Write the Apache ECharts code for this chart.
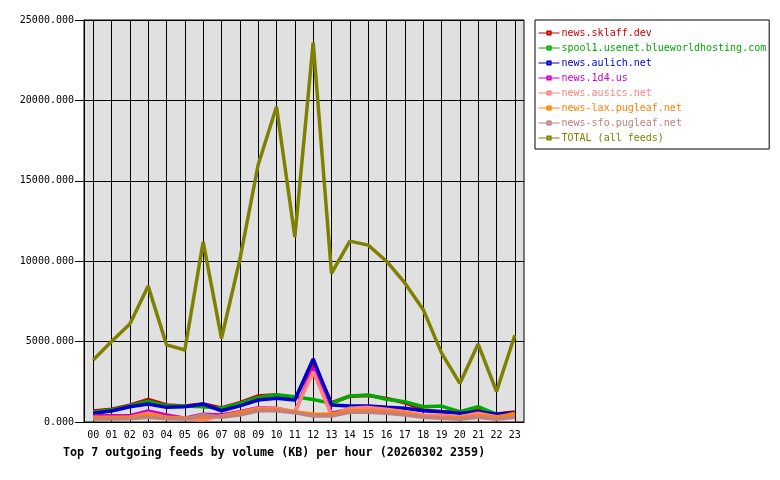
<!DOCTYPE html>
<html>
<head>
<meta charset="utf-8">
<script src="https://cdn.jsdelivr.net/npm/echarts@6/dist/echarts.min.js"></script>
<style>
html, body { margin: 0; padding: 0; background: #fff; }
#chart { width: 780px; height: 480px; }
</style>
</head>
<body>
<div id="chart"></div>
<script>
// hours of the day
var hours = ['00','01','02','03','04','05','06','07','08','09','10','11',
             '12','13','14','15','16','17','18','19','20','21','22','23'];

var feedNames = ['news.sklaff.dev', 'spool1.usenet.blueworldhosting.com', 'news.aulich.net',
                 'news.1d4.us', 'news.ausics.net', 'news-lax.pugleaf.net', 'news-sfo.pugleaf.net',
                 'TOTAL (all feeds)'];
var feedColors = ['#cc0000', '#00aa00', '#0000cc', '#cc00cc', '#ff8080', '#ff8000', '#c08080', '#808000'];

// KB per hour
var sklaff   = [680, 800, 1050, 1410, 1060, 1000, 1120, 870, 1200, 1620, 1700, 1400, 3700, 1200, 1600, 1650, 1470, 1200, 750, 640, 590, 790, 500, 620];
var spool1   = [620, 750, 1000, 1290, 1000, 1000, 950, 850, 1150, 1530, 1700, 1570, 1400, 1160, 1620, 1680, 1410, 1260, 950, 990, 640, 950, 480, 435];
var aulich   = [540, 680, 950, 1120, 910, 950, 1120, 700, 1000, 1370, 1470, 1370, 3920, 1060, 1000, 990, 910, 850, 700, 640, 540, 640, 480, 580];
var d4       = [390, 390, 390, 680, 435, 230, 480, 435, 640, 890, 850, 600, 3340, 540, 800, 860, 750, 600, 380, 330, 300, 480, 330, 400];
var ausics   = [230, 250, 300, 540, 300, 200, 124, 380, 600, 850, 850, 640, 3130, 435, 850, 910, 790, 640, 435, 420, 330, 540, 330, 420];
var lax      = [290, 290, 300, 420, 300, 250, 300, 350, 600, 790, 780, 640, 480, 500, 700, 700, 640, 540, 330, 290, 260, 380, 290, 540];
var sfo      = [190, 190, 200, 290, 200, 180, 450, 300, 435, 700, 700, 580, 370, 370, 600, 600, 540, 435, 290, 230, 170, 290, 170, 300];
var total    = [3850, 5000, 6100, 8450, 4800, 4480, 11200, 5200, 10100, 16000, 19600, 11500, 23600, 9250, 11250, 11000, 10000, 8650, 7000, 4300, 2400, 4850, 1900, 5400];

var yTicks = [0, 5000, 10000, 15000, 20000, 25000];

var feedData = [sklaff, spool1, aulich, d4, ausics, lax, sfo, total];
var mono = 'DejaVu Sans Mono';

var myChart = echarts.init(document.getElementById('chart'));

var series = [];
var legendData = [];
for (var i = 0; i < feedNames.length; i++) {
    series.push({
        name: feedNames[i],
        type: 'line',
        data: feedData[i],
        symbol: 'emptyRect',
        symbolSize: 4,
        showSymbol: false,
        animation: false,
        lineStyle: { width: 3.5, color: feedColors[i] },
        itemStyle: { color: feedColors[i] }
    });
    legendData.push({ name: feedNames[i], textStyle: { color: feedColors[i] } });
}

var option = {
    backgroundColor: '#ffffff',
    animation: false,
    title: {
        text: 'Top 7 outgoing feeds by volume (KB) per hour (20260302 2359)',
        left: 58,
        top: 442,
        textStyle: { fontFamily: mono, fontSize: 11.7, fontWeight: 'bold', color: '#000' }
    },
    legend: {
        orient: 'vertical',
        left: 535,
        top: 20,
        data: legendData,
        itemWidth: 21,
        itemHeight: 4,
        itemGap: 3,
        padding: [7, 3, 5, 3],
        backgroundColor: '#ffffff',
        borderColor: '#000',
        borderWidth: 1,
        borderRadius: 0,
        selectedMode: false,
        lineStyle: { width: 1 },
        itemStyle: { borderWidth: 1 },
        textStyle: { fontFamily: mono, fontSize: 10, lineHeight: 12, padding: [0, 0, 0, -3] }
    },
    grid: {
        left: 84,
        right: 256,
        top: 20,
        bottom: 58,
        show: true,
        backgroundColor: '#e0e0e0',
        borderColor: '#000',
        borderWidth: 1
    },
    xAxis: {
        type: 'category',
        data: hours,
        boundaryGap: true,
        axisLine: { lineStyle: { color: '#000', width: 1 } },
        axisTick: { alignWithLabel: true, length: 4, lineStyle: { color: '#000' } },
        axisLabel: { interval: 0, margin: 8, fontFamily: mono, fontSize: 10, color: '#000' },
        splitLine: { show: true, alignWithLabel: true, lineStyle: { color: '#000', width: 1 } }
    },
    yAxis: {
        type: 'value',
        min: yTicks[0],
        max: yTicks[yTicks.length - 1],
        interval: yTicks[1] - yTicks[0],
        axisLine: { show: true, lineStyle: { color: '#000' } },
        axisTick: { show: true, length: 9, lineStyle: { color: '#000' } },
        axisLabel: {
            margin: 10,
            fontFamily: mono,
            fontSize: 10,
            color: '#000',
            formatter: function (v) { return v.toFixed(3); }
        },
        splitLine: { show: true, lineStyle: { color: '#000', width: 1 } }
    },
    series: series
};
myChart.setOption(option);
</script>
</body>
</html>
